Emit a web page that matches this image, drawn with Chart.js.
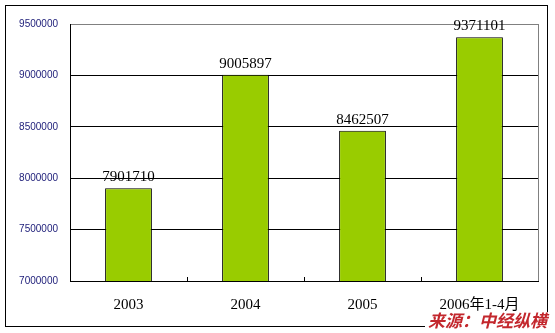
<!DOCTYPE html>
<html>
<head>
<meta charset="utf-8">
<script src="https://cdn.jsdelivr.net/npm/chart.js@4.4.1/dist/chart.umd.min.js"></script>
<style>
  html, body { margin: 0; padding: 0; background: #fff; }
  #wrap { width: 555px; height: 333px; }
</style>
</head>
<body>
<div id="wrap"><canvas id="chart" width="555" height="333"></canvas></div>
<script>
// data
const years = ['2003', '2004', '2005', '2006年1-4月'];
const counts = [7901710, 9005897, 8462507, 9371101];
const yMin = 7000000;
const yMax = 9500000;
const yStep = 500000;
const sourceText = '来源：中经纵横';

// frame, plot border, small ticks, value labels and the source note
const decorations = {
    id: 'decorations',
    beforeDraw(chart) {
        const ctx = chart.ctx;
        ctx.save();
        ctx.fillStyle = '#fff';
        ctx.fillRect(0, 0, chart.width, chart.height);
        ctx.strokeStyle = '#000';
        ctx.lineWidth = 1;
        ctx.strokeRect(5.5, 5.5, 542, 321);
        ctx.restore();
    },
    afterDraw(chart) {
        const ctx = chart.ctx;
        const area = chart.chartArea;
        const x = chart.scales.x;
        ctx.save();

        // right border of the plot area, grey like the top gridline
        ctx.strokeStyle = '#808080';
        ctx.lineWidth = 1;
        ctx.beginPath();
        ctx.moveTo(Math.round(area.right) + 0.5, area.top);
        ctx.lineTo(Math.round(area.right) + 0.5, area.bottom);
        ctx.stroke();

        // short ticks between categories, pointing up
        ctx.strokeStyle = '#000';
        for (let i = 1; i < years.length; i++) {
            const px = Math.round((x.getPixelForTick(i - 1) + x.getPixelForTick(i)) / 2) + 0.5;
            ctx.beginPath();
            ctx.moveTo(px, area.bottom);
            ctx.lineTo(px, area.bottom - 4);
            ctx.stroke();
        }

        // value labels above the bars
        const meta = chart.getDatasetMeta(0);
        ctx.fillStyle = '#000';
        ctx.font = '15px "Liberation Serif", "Times New Roman", serif';
        ctx.textAlign = 'center';
        ctx.textBaseline = 'alphabetic';
        meta.data.forEach((bar, i) => {
            ctx.fillText(String(counts[i]), bar.x, bar.y - 7);
        });

        // source note over the bottom right corner of the frame
        ctx.font = 'italic bold 17px "Noto Sans CJK SC", sans-serif';
        ctx.textAlign = 'right';
        ctx.textBaseline = 'alphabetic';
        const w = ctx.measureText(sourceText).width;
        ctx.fillStyle = '#fff';
        ctx.fillRect(546 - w - 2, 312, w + 4, 20);
        ctx.fillStyle = '#c3272d';
        ctx.fillText(sourceText, 547, 327);
        ctx.restore();
    }
};

const ctx = document.getElementById('chart').getContext('2d');
new Chart(ctx, {
    type: 'bar',
    data: {
        labels: years,
        datasets: [{
            data: counts,
            backgroundColor: '#99cc00',
            borderColor: '#000',
            borderWidth: 1,
            categoryPercentage: 0.8,
            barPercentage: 0.5
        }]
    },
    options: {
        responsive: false,
        animation: false,
        layout: { padding: { left: 0, top: 24, right: 17, bottom: 0 } },
        plugins: {
            legend: { display: false },
            tooltip: { enabled: false }
        },
        scales: {
            x: {
                grid: { display: false, drawTicks: false },
                border: { display: true, color: '#000', width: 1 },
                ticks: {
                    color: '#000',
                    padding: 15,
                    maxRotation: 0,
                    font: { family: '"Liberation Serif", "Times New Roman", "Noto Sans CJK SC", serif', size: 15 }
                },
                afterFit(scale) { scale.height = 52; }
            },
            y: {
                min: yMin,
                max: yMax,
                grid: {
                    drawTicks: false,
                    color: (c) => (c.tick && c.tick.value === yMax ? '#808080' : '#000'),
                    lineWidth: 1
                },
                border: { display: true, color: '#000', width: 1 },
                ticks: {
                    stepSize: yStep,
                    color: '#1c1c78',
                    padding: 12,
                    font: { family: '"Liberation Sans", Arial, sans-serif', size: 10 },
                    callback: (v) => String(v)
                },
                afterFit(scale) { scale.width = 70; }
            }
        }
    },
    plugins: [decorations]
});
</script>
</body>
</html>
